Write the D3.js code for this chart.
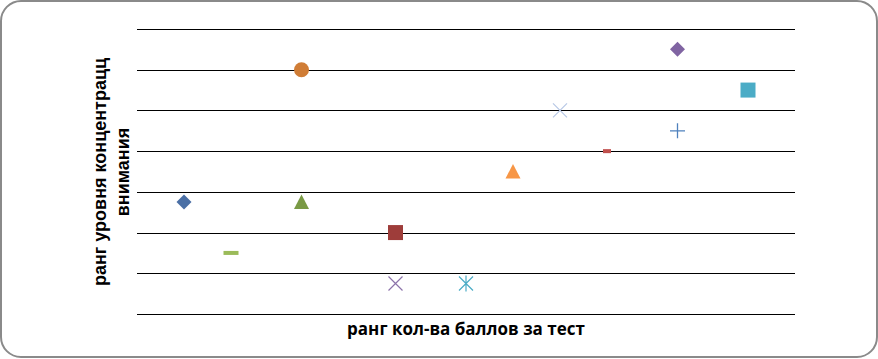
<!DOCTYPE html>
<html>
<head>
<meta charset="utf-8">
<script src="https://cdn.jsdelivr.net/npm/d3@7"></script>
<style>
  html, body { margin: 0; padding: 0; background: #fff; }
</style>
</head>
<body>
<div id="chart"></div>
<script>
// rank of test score (x) vs rank of attention level (y), one point per series
const rankScore     = [1, 2, 3.5, 3.5, 5.5, 5.5, 7, 8, 9, 10, 11.5, 11.5, 13];
const rankAttention = [5.5, 3, 12, 5.5, 4, 1.5, 1.5, 7, 10, 8, 9, 13, 11];
const markers = ["diamond", "dash", "circle", "triangle", "square", "x", "star",
                 "triangle", "x", "dashSmall", "plus", "diamond", "square"];
const colors  = ["#4A6FA5", "#9BBB59", "#D07D36", "#7A9A45", "#9E3D3A", "#8C73AA", "#4BACC6",
                 "#F79646", "#B8C8E6", "#C0504D", "#4F81BD", "#8064A2", "#4BACC6"];
const yTicks = [0, 2, 4, 6, 8, 10, 12, 14];

const W = 878, H = 359;
const svg = d3.select("#chart").append("svg")
    .attr("width", W).attr("height", H);

// outer rounded frame
svg.append("rect")
    .attr("x", 1).attr("y", 1)
    .attr("width", W - 2).attr("height", H - 3)
    .attr("rx", 20).attr("ry", 20)
    .attr("fill", "#fff")
    .attr("stroke", "#8a8a8a").attr("stroke-width", 2);

let x = d3.scaleLinear().domain([0, 14]).range([137, 795]);
let y = d3.scaleLinear().domain([0, 14]).range([314, 29]);

// horizontal gridlines
svg.append("g")
    .selectAll("line")
    .data(yTicks)
    .enter().append("line")
    .attr("x1", x(0)).attr("x2", x(14))
    .attr("y1", d => Math.round(y(d)) + 0.5)
    .attr("y2", d => Math.round(y(d)) + 0.5)
    .attr("stroke", "#000").attr("stroke-width", 1.2);

// marker shapes, centered on 0,0
const shape = (g, type, c) => {
  if (type === "diamond") {
    g.append("path").attr("d", "M0,-7.5L7.5,0L0,7.5L-7.5,0Z").attr("fill", c);
  } else if (type === "circle") {
    g.append("circle").attr("r", 7.5).attr("fill", c);
  } else if (type === "triangle") {
    g.append("path").attr("d", "M0,-7.5L7.5,7L-7.5,7Z").attr("fill", c);
  } else if (type === "square") {
    g.append("rect").attr("x", -7.5).attr("y", -7.5).attr("width", 15).attr("height", 15).attr("fill", c);
  } else if (type === "dash") {
    g.append("rect").attr("x", -7.5).attr("y", -2).attr("width", 15).attr("height", 4).attr("fill", c);
  } else if (type === "dashSmall") {
    g.append("rect").attr("x", -4).attr("y", -2).attr("width", 8).attr("height", 4).attr("fill", c);
  } else if (type === "x") {
    g.append("path").attr("d", "M-7,-7L7,7M7,-7L-7,7").attr("stroke", c).attr("stroke-width", 1.2).attr("fill", "none");
  } else if (type === "star") {
    g.append("path").attr("d", "M-7,-7L7,7M7,-7L-7,7M0,-8L0,8").attr("stroke", c).attr("stroke-width", 1.2).attr("fill", "none");
  } else if (type === "plus") {
    g.append("path").attr("d", "M-7.5,0L7.5,0M0,-7.5L0,7.5").attr("stroke", c).attr("stroke-width", 1.3).attr("fill", "none");
  }
};

const pts = rankScore.map((v, i) => ({sx: v, sy: rankAttention[i], m: markers[i], c: colors[i]}));
svg.append("g").selectAll("g")
    .data(pts)
    .enter().append("g")
    .attr("transform", d => "translate(" + x(d.sx) + "," + y(d.sy) + ")")
    .each(function(d) { shape(d3.select(this), d.m, d.c); });

// axis titles
const yt = svg.append("text")
    .attr("transform", "translate(106,172) rotate(-90)")
    .attr("text-anchor", "middle")
    .style("font-family", "'Liberation Sans', Arial, sans-serif")
    .style("font-weight", "bold").style("font-size", "18px")
    .attr("fill", "#000");
yt.append("tspan").attr("x", 0).attr("dy", 0).text("ранг уровня концентрацц");
yt.append("tspan").attr("x", 0).attr("dy", 23).text("внимания");

svg.append("text")
    .attr("x", x(7)).attr("y", 335)
    .attr("text-anchor", "middle")
    .style("font-family", "'Open Sans', sans-serif")
    .style("font-weight", "bold").style("font-size", "17px")
    .attr("fill", "#000")
    .text("ранг кол-ва баллов за тест");
</script>
</body>
</html>
